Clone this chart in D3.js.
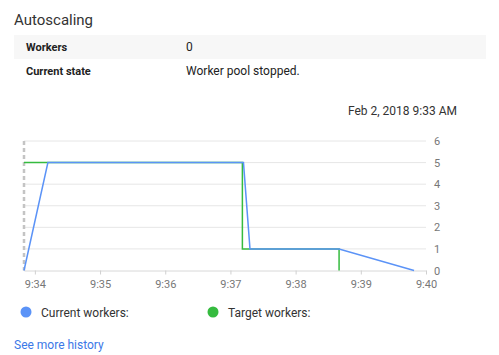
<!DOCTYPE html>
<html>
<head>
<meta charset="utf-8">
<script src="https://cdn.jsdelivr.net/npm/d3@7"></script>
<style>
  body { margin: 0; background: #fff; font-family: Roboto, "Noto Sans", sans-serif; }
  svg { display: block; }
</style>
</head>
<body>
<svg id="chart" width="499" height="355"></svg>
<script>
const rowLabels = ["Workers", "Current state"];
const rowValues = ["0", "Worker pool stopped."];
const timestamp = "Feb 2, 2018 9:33 AM";

const currentTimes = ["9:33:50", "9:34:12", "9:37:12", "9:37:18", "9:38:40", "9:39:49"];
const currentValues = [0, 5, 5, 1, 1, 0];
const targetTimes = ["9:33:50", "9:37:11", "9:37:11", "9:38:40", "9:38:40"];
const targetValues = [5, 5, 1, 1, 0];

const xTicks = ["9:34", "9:35", "9:36", "9:37", "9:38", "9:39", "9:40"];
const yTicks = [0, 1, 2, 3, 4, 5, 6];
const seriesNames = ["Current workers:", "Target workers:"];
const seriesColors = ["#5b93f7", "#35bb3f"];

const parse = d3.timeParse("%H:%M:%S");
const parseTick = d3.timeParse("%H:%M");

const svg = d3.select("#chart");

// header
svg.append("text").attr("x", 14).attr("y", 25)
  .attr("font-size", 15).attr("fill", "#333").text("Autoscaling");

// info table
const rows = svg.append("g");
rows.append("rect").attr("x", 14).attr("y", 35).attr("width", 472).attr("height", 24).attr("fill", "#f7f7f7");
rowLabels.forEach((l, i) => {
  const cy = 47 + i * 24;
  rows.append("text").attr("x", 26).attr("y", cy).attr("dy", "0.35em")
    .attr("font-size", 11).attr("font-weight", "bold").attr("fill", "#222").text(l);
  rows.append("text").attr("x", 186).attr("y", cy).attr("dy", "0.35em")
    .attr("font-size", 12).attr("fill", "#222").text(rowValues[i]);
});

svg.append("text").attr("x", 457).attr("y", 111).attr("dy", "0.35em")
  .attr("text-anchor", "end").attr("font-size", 12).attr("fill", "#333").text(timestamp);

// chart
const plot = {left: 24, right: 426, top: 141, bottom: 270.5};
const x = d3.scaleTime().domain([parse("9:33:50"), parseTick("9:40")]).range([plot.left, plot.right]);
const y = d3.scaleLinear().domain([0, 6]).range([plot.bottom, plot.top]);

const grid = svg.append("g");
grid.selectAll("line").data(yTicks.filter(d => d > 0)).join("line")
  .attr("x1", plot.left).attr("x2", plot.right)
  .attr("y1", d => y(d)).attr("y2", d => y(d))
  .attr("stroke", "#e6e6e6").attr("stroke-width", 1);

const xAxis = svg.append("g").attr("transform", `translate(0,${plot.bottom})`)
  .call(d3.axisBottom(x).tickValues(xTicks.map(parseTick)).tickFormat(d3.timeFormat("%-H:%M"))
    .tickSizeInner(4).tickSizeOuter(0).tickPadding(6));
xAxis.select(".domain").attr("stroke", "#d8d8d8");
xAxis.selectAll(".tick line").attr("stroke", "#d0d0d0");
xAxis.selectAll("text").attr("font-family", "Roboto").attr("font-size", 11).attr("fill", "#777");

const yAxis = svg.append("g").attr("transform", `translate(${plot.right},0)`)
  .call(d3.axisRight(y).tickValues(yTicks).tickFormat(d3.format("d")).tickSize(0).tickPadding(8));
yAxis.select(".domain").remove();
yAxis.selectAll("text").attr("font-family", "Roboto").attr("font-size", 11).attr("fill", "#777");

// start marker
svg.append("line").attr("x1", plot.left).attr("x2", plot.left).attr("y1", plot.top).attr("y2", plot.bottom)
  .attr("stroke", "#c4c4c4").attr("stroke-width", 2.5).attr("stroke-dasharray", "4,3");

const line = d3.line().x(d => x(d[0])).y(d => y(d[1]));
const targetData = targetTimes.map((t, i) => [parse(t), targetValues[i]]);
const currentData = currentTimes.map((t, i) => [parse(t), currentValues[i]]);

svg.append("path").datum(targetData).attr("d", line)
  .attr("fill", "none").attr("stroke", seriesColors[1]).attr("stroke-width", 1.5);
svg.append("path").datum(currentData).attr("d", line)
  .attr("fill", "none").attr("stroke", seriesColors[0]).attr("stroke-width", 1.5);

// legend
const legendX = [26, 213];
seriesNames.forEach((n, i) => {
  svg.append("circle").attr("cx", legendX[i]).attr("cy", 312).attr("r", 5.5).attr("fill", seriesColors[i]);
  svg.append("text").attr("x", legendX[i] + 15).attr("y", 313).attr("dy", "0.35em")
    .attr("font-size", 12).attr("fill", "#333").text(n);
});

svg.append("text").attr("x", 14).attr("y", 345).attr("dy", "0.35em")
  .attr("font-size", 12).attr("fill", "#3b78e7").text("See more history");
</script>
</body>
</html>
